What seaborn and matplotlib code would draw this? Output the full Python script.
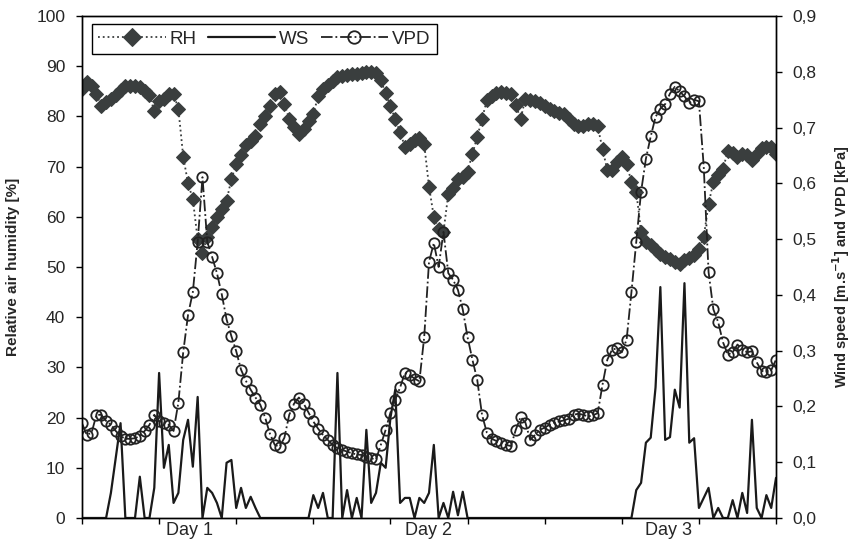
import numpy as np
import pandas as pd
import matplotlib
matplotlib.use("Agg")
import matplotlib.pyplot as plt
import seaborn as sns
from matplotlib.ticker import FuncFormatter, MultipleLocator

# readings every 30 min over three days
rh = [85.5, 86.8, 86.0, 84.5, 82.0, 82.8, 83.5, 84.2, 85.2, 86.0,
      86.0, 86.0, 85.8, 85.0, 84.3, 81.0, 83.0, 83.5, 84.4, 84.5,
      81.5, 72.0, 66.7, 63.5, 55.5, 52.8, 56.0, 58.0, 60.0, 61.5,
      63.2, 67.5, 70.5, 72.3, 74.3, 75.0, 76.0, 78.5, 80.0, 82.0,
      84.5, 84.8, 82.5, 79.5, 77.8, 76.5, 77.5, 79.0, 80.5, 84.0,
      85.5, 86.3, 87.0, 87.8, 88.0, 88.2, 88.4, 88.5, 88.6, 88.8,
      88.8, 88.7, 87.2, 84.6, 82.0, 79.5, 76.8, 74.0, 74.5, 75.3,
      75.6, 74.5, 66.0, 60.0, 57.5, 57.0, 64.5, 65.8, 67.5, 68.0,
      69.0, 72.5, 75.9, 79.5, 83.2, 84.0, 84.7, 84.8, 84.7, 84.5,
      82.3, 79.5, 83.5, 83.3, 83.0, 82.7, 82.0, 81.5, 81.0, 80.7,
      80.5, 79.5, 78.5, 78.0, 78.0, 78.5, 78.5, 78.0, 73.5, 69.3,
      69.3, 71.0, 72.0, 70.5, 67.0, 65.0, 57.0, 55.0, 54.3, 53.3,
      52.5, 52.0, 51.6, 51.0, 50.5, 51.3, 51.8, 52.3, 53.5, 56.0,
      62.5, 67.0, 68.3, 69.5, 73.2, 72.8, 72.0, 72.5, 72.3, 71.3,
      72.5, 73.8, 74.0, 73.9, 72.5]

ws = [0, 0, 0, 0, 0, 0, 0.045, 0.108, 0.170, 0,
      0, 0, 0.074, 0, 0, 0.054, 0.260, 0.090, 0.131, 0.027,
      0.045, 0.140, 0.176, 0.092, 0.217, 0, 0.054, 0.045, 0.027, 0,
      0.099, 0.104, 0.018, 0.054, 0.018, 0.038, 0.018, 0, 0, 0,
      0, 0, 0, 0, 0, 0, 0, 0, 0.041, 0.018,
      0.045, 0, 0, 0.260, 0, 0.050, 0, 0.036, 0, 0.158,
      0.027, 0.045, 0.099, 0.090, 0.180, 0.230, 0.027, 0.036, 0.036, 0,
      0.036, 0.027, 0.045, 0.131, 0, 0.027, 0, 0.047, 0.005, 0.047,
      0, 0, 0, 0, 0, 0, 0, 0, 0, 0,
      0, 0, 0, 0, 0, 0, 0, 0, 0, 0,
      0, 0, 0, 0, 0, 0, 0, 0, 0, 0,
      0, 0, 0, 0, 0, 0.050, 0.063, 0.135, 0.144, 0.234,
      0.414, 0.140, 0.145, 0.230, 0.198, 0.421, 0.135, 0.143, 0.018, 0.036,
      0.054, 0, 0.018, 0, 0, 0.032, 0, 0.045, 0.009, 0.176,
      0.018, 0, 0.041, 0.018, 0.072]

vpd = [0.170, 0.149, 0.153, 0.185, 0.185, 0.174, 0.167, 0.156, 0.147, 0.142,
       0.142, 0.143, 0.147, 0.156, 0.167, 0.185, 0.173, 0.171, 0.167, 0.156,
       0.207, 0.297, 0.364, 0.405, 0.495, 0.611, 0.495, 0.468, 0.439, 0.401,
       0.356, 0.326, 0.299, 0.266, 0.246, 0.230, 0.216, 0.203, 0.180, 0.151,
       0.131, 0.128, 0.144, 0.185, 0.205, 0.216, 0.205, 0.189, 0.173, 0.160,
       0.149, 0.140, 0.131, 0.125, 0.122, 0.119, 0.116, 0.114, 0.113, 0.110,
       0.107, 0.105, 0.131, 0.158, 0.189, 0.212, 0.234, 0.260, 0.256, 0.250,
       0.245, 0.324, 0.459, 0.493, 0.450, 0.513, 0.439, 0.427, 0.409, 0.374,
       0.324, 0.284, 0.248, 0.185, 0.153, 0.142, 0.138, 0.135, 0.131, 0.129,
       0.158, 0.181, 0.171, 0.140, 0.149, 0.158, 0.162, 0.167, 0.171, 0.173,
       0.175, 0.178, 0.185, 0.187, 0.185, 0.182, 0.184, 0.188, 0.239, 0.284,
       0.302, 0.304, 0.297, 0.320, 0.405, 0.495, 0.585, 0.644, 0.684, 0.719,
       0.734, 0.742, 0.761, 0.773, 0.765, 0.756, 0.744, 0.750, 0.747, 0.630,
       0.441, 0.374, 0.351, 0.315, 0.293, 0.297, 0.311, 0.302, 0.297, 0.299,
       0.279, 0.264, 0.261, 0.265, 0.284]

day_labels = ["Day 1", "Day 2", "Day 3"]
day_pos = [11.2, 35.9, 60.8]

step = 0.5  # hours between readings
hours = np.arange(len(rh)) * step
df = pd.DataFrame({"hour": hours, "RH": rh, "WS": ws, "VPD": vpd})

sns.set_theme(style="ticks")
plt.rcParams["font.family"] = ["Liberation Sans", "DejaVu Sans"]

fig, ax = plt.subplots(figsize=(8.54, 5.42), dpi=100)
fig.subplots_adjust(left=0.096, right=0.9087, top=0.9705, bottom=0.0443)
ax2 = ax.twinx()

dark = "#3a3e3e"
sns.lineplot(data=df, x="hour", y="RH", ax=ax, color=dark, linestyle=":", lw=1.3,
             marker="D", markersize=7.5, markeredgecolor=dark, markerfacecolor=dark,
             estimator=None, sort=False, label="RH", legend=False)
sns.lineplot(data=df, x="hour", y="WS", ax=ax2, color="#1a1a1a", lw=1.6,
             estimator=None, sort=False, label="WS", legend=False)
sns.lineplot(data=df, x="hour", y="VPD", ax=ax2, color="#222222", linestyle="-.", lw=1.3,
             marker="o", markersize=7.5, markerfacecolor="none", markeredgecolor="#222222",
             markeredgewidth=1.3, estimator=None, sort=False, label="VPD", legend=False)

ax.set_xlim(0, 72)
ax.set_ylim(0, 100)
ax2.set_ylim(0, 0.9)
ax.set_yticks(range(0, 101, 10))
ax2.set_yticks(np.arange(0, 0.91, 0.1))
ax2.yaxis.set_major_formatter(FuncFormatter(lambda v, p: f"{v:.1f}".replace(".", ",")))

ax.set_xticks(day_pos)
ax.set_xticklabels(day_labels)
ax.xaxis.set_minor_locator(MultipleLocator(8))
ax.tick_params(axis="x", which="major", length=0, labelsize=13, pad=3)
ax.tick_params(axis="x", which="minor", length=4, width=1, color="black", direction="out")
ax.tick_params(axis="y", length=4, width=1, color="black", labelsize=12.5, pad=8)
ax2.tick_params(axis="y", length=4, width=1, color="black", labelsize=12.5, pad=8)

ax.set_xlabel("")
ax.set_ylabel("Relative air humidity [%]", fontweight="bold", fontsize=11)
ax2.set_ylabel(r"Wind speed [m.s$^{\mathbf{-1}}$] and VPD [kPa]", fontweight="bold", fontsize=10.5)
ax.yaxis.set_label_coords(-0.089, 0.5)
ax2.yaxis.set_label_coords(1.078, 0.5)

for a in (ax, ax2):
    for s in a.spines.values():
        s.set_color("black")
        s.set_linewidth(1)

h1, l1 = ax.get_legend_handles_labels()
h2, l2 = ax2.get_legend_handles_labels()
leg = ax2.legend(h1 + h2, l1 + l2, loc="upper left", bbox_to_anchor=(0.014, 0.984),
                 borderaxespad=0, ncol=3, frameon=True, fancybox=False, edgecolor="black",
                 framealpha=1, fontsize=13.5, handlelength=3.6, handletextpad=0.2,
                 columnspacing=0.6, borderpad=0.35, markerscale=1.2)
leg.get_frame().set_linewidth(1)

plt.savefig("out.png", dpi=100)
